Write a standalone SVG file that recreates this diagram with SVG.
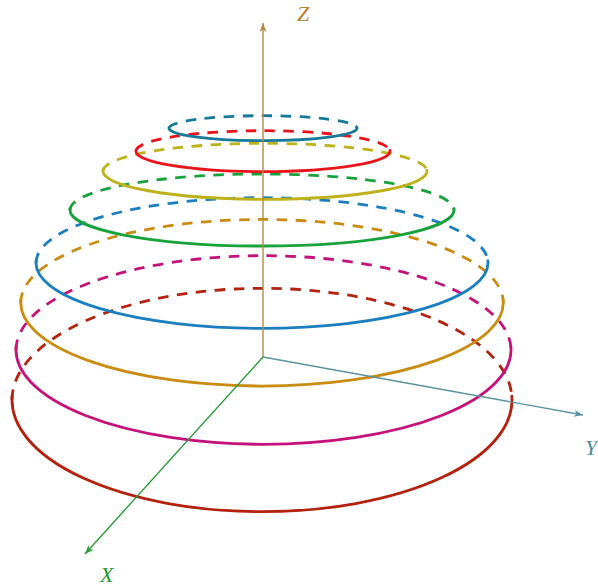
<svg xmlns="http://www.w3.org/2000/svg" width="598" height="587" viewBox="0 0 598 587">
<style>
.d{fill:none;stroke-width:2.8;stroke-dasharray:10.5 8.5}
.s{fill:none;stroke-width:2.8;stroke-linecap:round}
.ax{fill:none;stroke-width:1.4}
.lbl{font-family:"Liberation Serif","DejaVu Serif",serif;font-style:italic;font-size:22px}
</style>
<defs>
<marker id="az" markerUnits="userSpaceOnUse" markerWidth="12" markerHeight="10" refX="0" refY="0" viewBox="-10 -5 12 10" orient="auto"><path d="M0,0 L-9,-3.5 L-6.5,0 L-9,3.5 Z" fill="#b38a45"/></marker>
<marker id="ay" markerUnits="userSpaceOnUse" markerWidth="12" markerHeight="10" refX="0" refY="0" viewBox="-10 -5 12 10" orient="auto"><path d="M0,0 L-9,-3.5 L-6.5,0 L-9,3.5 Z" fill="#5a929e"/></marker>
<marker id="axm" markerUnits="userSpaceOnUse" markerWidth="12" markerHeight="10" refX="0" refY="0" viewBox="-10 -5 12 10" orient="auto"><path d="M0,0 L-9,-3.5 L-6.5,0 L-9,3.5 Z" fill="#2a9a35"/></marker>
</defs>
<rect width="598" height="587" fill="#ffffff"/>
<g id="circle8" stroke="#b3220f">
<path class="d" d="M12,400 A250 111.7 0 0 1 512,400"/>
<path class="s" d="M12.15,396.1 A250 111.7 0 1 0 511.85,396.1"/>
</g>
<g id="circle7" stroke="#c4127a">
<path class="d" d="M16,350 A247.5 94.3 0 0 1 511,350"/>
<path class="s" d="M16.15,346.71 A247.5 94.3 0 1 0 510.85,346.71"/>
</g>
<g id="circle6" stroke="#c98b12">
<path class="d" d="M20.7,302.7 A241.3 83.3 0 0 1 503.3,302.7"/>
<path class="s" d="M20.85,299.79 A241.3 83.3 0 1 0 503.15,299.79"/>
</g>
<g id="circle5" stroke="#1a7ec0">
<path class="d" d="M36,263 A226 65.3 0 0 1 488,263"/>
<path class="s" d="M36.14,260.72 A226 65.3 0 1 0 487.86,260.72"/>
</g>
<g id="circle4" stroke="#18a23c">
<path class="d" d="M70,210 A192 36 0 0 1 454,210"/>
<path class="s" d="M70.12,208.74 A192 36 0 1 0 453.88,208.74"/>
</g>
<g id="circle3" stroke="#bdb21c">
<path class="d" d="M103,171.3 A162 28 0 0 1 427,171.3"/>
<path class="s" d="M103.1,170.32 A162 28 0 1 0 426.9,170.32"/>
</g>
<g id="circle2" stroke="#e8141c">
<path class="d" d="M136,151.2 A127 20.5 0 0 1 390,151.2"/>
<path class="s" d="M136.08,150.48 A127 20.5 0 1 0 389.92,150.48"/>
</g>
<g id="circle1" stroke="#16799a">
<path class="d" d="M169,128.2 A94 12.5 0 0 1 357,128.2"/>
<path class="s" d="M169.06,127.76 A94 12.5 0 1 0 356.94,127.76"/>
</g>
<g id="axes">
<line class="ax" x1="263" y1="357" x2="263" y2="23" stroke="#b38a45" marker-end="url(#az)"/>
<line class="ax" x1="263" y1="357" x2="583" y2="415" stroke="#5a929e" marker-end="url(#ay)"/>
<line class="ax" x1="263" y1="357" x2="85" y2="554" stroke="#2a9a35" marker-end="url(#axm)"/>
</g>
<g id="labels">
<text class="lbl" x="297" y="21" fill="#b8832a">Z</text>
<text class="lbl" x="585" y="455" fill="#4a8c98">Y</text>
<text class="lbl" x="100" y="582" fill="#239a30">X</text>
</g>
</svg>
